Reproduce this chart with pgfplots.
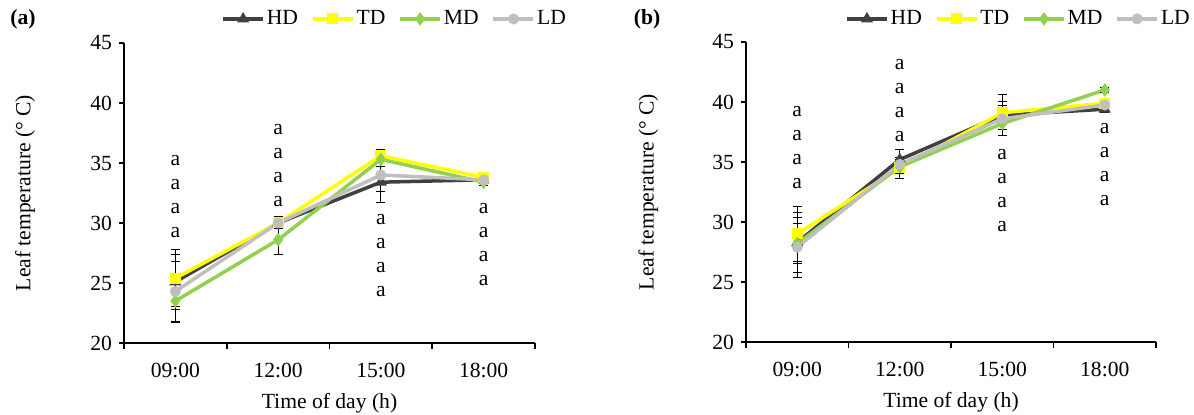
\documentclass[border=0pt]{standalone}
\usepackage{fontspec}
\setmainfont{Liberation Serif}
\usepackage{pgfplots}
\pgfplotsset{compat=1.18}
\definecolor{cHD}{RGB}{64,64,64}
\definecolor{cTD}{RGB}{255,255,0}
\definecolor{cMD}{RGB}{146,208,80}
\definecolor{cLD}{RGB}{191,191,191}
\pgfplotsset{
  panel/.style={
    scale only axis, height=150pt,
    xmin=-0.5, xmax=3.5, ymin=20, ymax=45,
    axis x line=bottom, axis y line=left,
    axis line style={-, line width=0.8pt, black},
    xtick={0,1,2,3}, xticklabels={09:00,12:00,15:00,18:00},
    major x tick style={draw=none},
    minor xtick={-0.5,0.5,1.5,2.5,3.5},
    ytick={20,25,30,35,40,45},
    tick align=outside, major tick length=2.5pt, minor tick length=3pt,
    every tick/.append style={black, line width=0.8pt},
    xticklabel style={yshift=-4pt},
    xlabel={Time of day (h)}, ylabel={Leaf temperature (° C)},
    xlabel style={at={(axis description cs:0.5,-0.2)}, anchor=center},
    /pgf/number format/assume math mode=true,
    clip=false,
    legend columns=4,
    legend style={draw=none, fill=none, inner sep=0pt, anchor=west,
      nodes={inner sep=1pt},
      /tikz/every even column/.append style={column sep=5.5pt}},
    legend image code/.code={\draw[mark repeat=2,mark phase=2,#1] plot coordinates {(0pt,0pt) (10pt,0pt) (20pt,0pt)};},
    error bars/y dir=both, error bars/y explicit,
    error bars/error bar style={black, line width=0.5pt, solid},
    error bars/error mark options={rotate=90, black, mark size=2.2pt, line width=0.5pt},
  },
  sHD/.style={color=cHD, line width=1.75pt, mark=triangle*, mark size=3pt, mark options={solid, fill=cHD, draw=cHD, line width=0.5pt}},
  sTD/.style={color=cTD, line width=1.75pt, mark=square*, mark size=2.5pt, mark options={solid, fill=cTD, draw=cTD, line width=0.5pt}},
  sMD/.style={color=cMD, line width=1.75pt, mark=diamond*, mark size=3pt, mark options={solid, fill=cMD, draw=cMD, line width=0.5pt}},
  sLD/.style={color=cLD, line width=1.75pt, mark=*, mark size=2.5pt, mark options={solid, fill=cLD, draw=cLD, line width=0.5pt}},
}
\begin{document}
\begin{tikzpicture}[font=\fontsize{10.8}{12}\selectfont]
\useasboundingbox (0,0) rectangle (597pt,-207.5pt);
\node[font=\fontsize{10.8}{12}\selectfont\bfseries] at (11.5pt,-9.5pt) {(a)};
\node[font=\fontsize{10.8}{12}\selectfont\bfseries] at (323.5pt,-9.5pt) {(b)};
% ---------- panel (a)
\begin{axis}[panel, width=205.5pt, at={(62pt,-171.5pt)}, anchor=south west,
  ylabel style={at={(axis description cs:-0.241,0.5)}, anchor=center},
  legend style={at={(axis description cs:0.236,1.08)}}]
\addplot+[sHD] coordinates {(0,25.1) +- (0,2.3) (1,30.0) +- (0,0.4) (2,33.4) +- (0,1.7) (3,33.6) +- (0,0.3)};
\addplot+[sTD] coordinates {(0,25.4) +- (0,2.4) (1,30.0) +- (0,0.4) (2,35.6) +- (0,0.5) (3,33.8) +- (0,0.3)};
\addplot+[sMD] coordinates {(0,23.5) +- (0,1.8) (1,28.6) +- (0,1.2) (2,35.3) +- (0,0.6) (3,33.4) +- (0,0.3)};
\addplot+[sLD] coordinates {(0,24.3) +- (0,2.5) (1,30.0) +- (0,0.5) (2,34.0) +- (0,1.4) (3,33.6) +- (0,0.3)};
\legend{HD,TD,MD,LD}
\node[align=center] at (axis cs:0,32.17) {a\\a\\a\\a};
\node[align=center] at (axis cs:1,34.75) {a\\a\\a\\a};
\node[align=center] at (axis cs:2,27.25) {a\\a\\a\\a};
\node[align=center] at (axis cs:3,28.17) {a\\a\\a\\a};
\end{axis}
% ---------- panel (b)
\begin{axis}[panel, width=205pt, at={(373pt,-171pt)}, anchor=south west,
  ylabel style={at={(axis description cs:-0.238,0.5)}, anchor=center},
  legend style={at={(axis description cs:0.241,1.077)}}]
\addplot+[sHD] coordinates {(0,28.3) +- (0,2.5) (1,35.2) +- (0,0.8) (2,38.9) +- (0,1.7) (3,39.4) +- (0,0.3)};
\addplot+[sTD] coordinates {(0,29.0) +- (0,2.3) (1,34.5) +- (0,0.9) (2,39.1) +- (0,0.6) (3,39.9) +- (0,0.3)};
\addplot+[sMD] coordinates {(0,28.2) +- (0,1.7) (1,34.6) +- (0,0.6) (2,38.2) +- (0,0.5) (3,41.0) +- (0,0.2)};
\addplot+[sLD] coordinates {(0,27.9) +- (0,2.5) (1,34.8) +- (0,0.6) (2,38.6) +- (0,1.4) (3,39.75) +- (0,0.3)};
\legend{HD,TD,MD,LD}
\node[align=center] at (axis cs:0,36.17) {a\\a\\a\\a};
\node[align=center] at (axis cs:1,40.1) {a\\a\\a\\a};
\node[align=center] at (axis cs:2,32.6) {a\\a\\a\\a};
\node[align=center] at (axis cs:3,34.75) {a\\a\\a\\a};
\end{axis}
\end{tikzpicture}
\end{document}
